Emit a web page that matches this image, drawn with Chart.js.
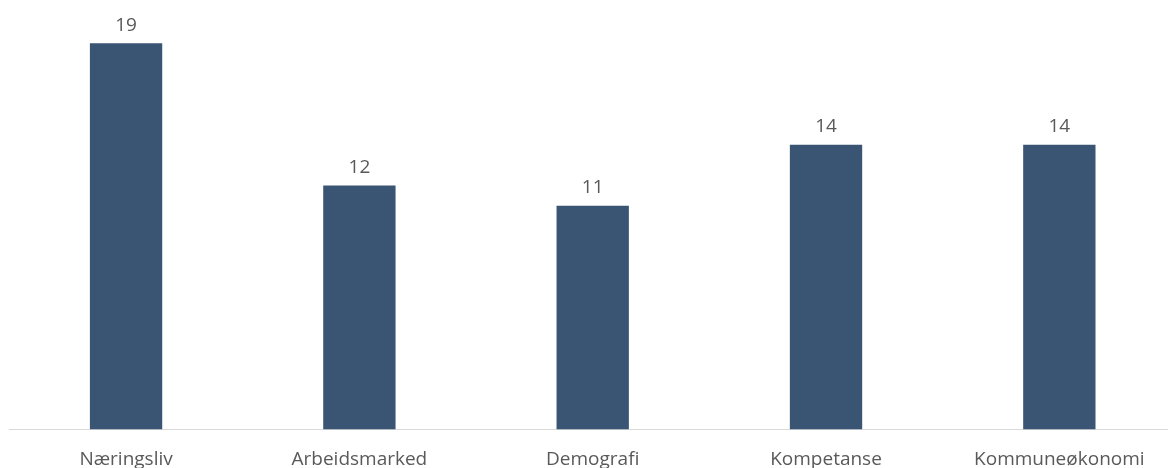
<!DOCTYPE html>
<html>
<head>
<meta charset="utf-8">
<script src="https://cdn.jsdelivr.net/npm/chart.js@4.4.1/dist/chart.umd.min.js"></script>
<style>
  html, body { margin: 0; padding: 0; background: #fff; overflow: hidden; }
  #wrap { width: 1176px; height: 468px; position: relative; }
</style>
</head>
<body>
<div id="wrap"><canvas id="bars"></canvas></div>
<script>
var categories = ["Næringsliv", "Arbeidsmarked", "Demografi", "Kompetanse", "Kommuneøkonomi"]
var values = [19, 12, 11, 14, 14]
var barColor = "#3a5573"
var textColor = "#595959"

// draws the number above each bar
var valueLabels = {
    id: "valueLabels",
    afterDatasetsDraw: function (chart) {
        var ctx = chart.ctx
        var meta = chart.getDatasetMeta(0)
        ctx.save()
        ctx.font = "19px 'Open Sans'"
        ctx.fillStyle = textColor
        ctx.textAlign = "center"
        ctx.textBaseline = "middle"
        meta.data.forEach(function (bar, i) {
            ctx.fillText(values[i], bar.x, bar.y - 18)
        })
        ctx.restore()
    }
}

new Chart("bars", {
    type: "bar",
    data: {
        labels: categories,
        datasets: [{
            data: values,
            backgroundColor: barColor,
            barPercentage: 0.62,
            categoryPercentage: 0.5
        }]
    },
    options: {
        responsive: true,
        maintainAspectRatio: false,
        animation: false,
        layout: { padding: { left: 9.4, top: 2.5, right: 0, bottom: 0 } },
        plugins: {
            legend: { display: false },
            tooltip: { enabled: false }
        },
        scales: {
            x: {
                grid: { display: false, drawTicks: false },
                border: { display: true, color: "#d9d9d9", width: 1 },
                ticks: {
                    color: textColor,
                    font: { family: "'Open Sans'", size: 19 },
                    padding: 19,
                    maxRotation: 0,
                    autoSkip: false
                },
                afterFit: function (scale) { scale.height = 38.5 }
            },
            y: {
                display: false,
                min: 0,
                max: 21
            }
        }
    },
    plugins: [valueLabels]
})
</script>
</body>
</html>
